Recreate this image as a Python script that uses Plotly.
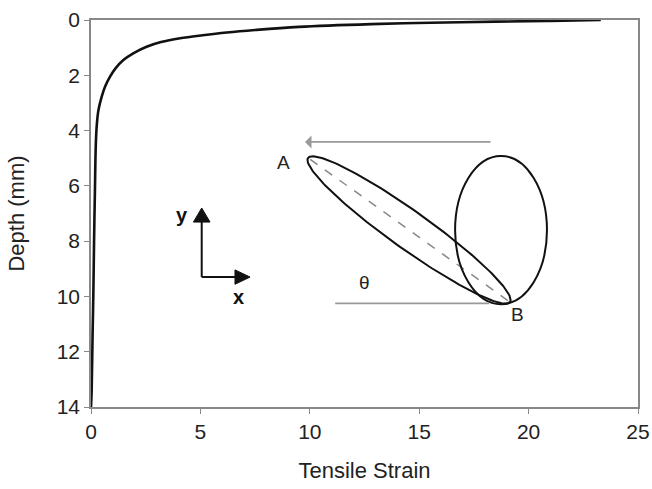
import numpy as np
import plotly.graph_objects as go

# ---- data: depth profile of tensile strain ----
depth = [0.0, 0.03, 0.06, 0.10, 0.15, 0.25, 0.36, 0.45, 0.55, 0.66, 0.80, 0.97,
         1.20, 1.45, 1.75, 2.05, 2.40, 2.77, 3.26, 3.74, 4.50, 6.15, 8.00, 9.77,
         11.50, 13.40, 14.0]
strain = [23.3, 21.0, 18.5, 15.5, 12.8, 9.5, 7.5, 6.2, 5.1, 4.07, 3.2, 2.54,
          1.95, 1.48, 1.12, 0.87, 0.65, 0.49, 0.34, 0.27, 0.22, 0.18, 0.14, 0.11,
          0.07, 0.03, 0.0]

x_ticks = [0, 5, 10, 15, 20, 25]
y_ticks = [0, 2, 4, 6, 8, 10, 12, 14]

W, H = 652, 489
L, R, T, B = 91, 14, 20, 82
XR = [0, 25]
YR = [14, 0]
sx = (W - L - R) / (XR[1] - XR[0])   # px per x unit
sy = (H - T - B) / (YR[0] - YR[1])   # px per y unit

fig = go.Figure()
fig.add_trace(go.Scatter(x=strain, y=depth, mode="lines", line_shape="spline",
                         line=dict(color="#111111", width=2.6), hoverinfo="skip"))

# ---- schematic (inset diagram) ----
A = (9.92, 4.99)
Bp = (19.15, 10.20)
minor_px = 19.0
ax_, ay_ = A[0] * sx, A[1] * sy
bx_, by_ = Bp[0] * sx, Bp[1] * sy
cx, cy = (ax_ + bx_) / 2, (ay_ + by_) / 2
a = np.hypot(bx_ - ax_, by_ - ay_) / 2
ang = np.arctan2(by_ - ay_, bx_ - ax_)
t = np.linspace(0, 2 * np.pi, 200)
ex = cx + a * np.cos(t) * np.cos(ang) - minor_px * np.sin(t) * np.sin(ang)
ey = cy + a * np.cos(t) * np.sin(ang) + minor_px * np.sin(t) * np.cos(ang)
fig.add_trace(go.Scatter(x=ex / sx, y=ey / sy, mode="lines",
                         line=dict(color="#111111", width=2), hoverinfo="skip"))
fig.add_trace(go.Scatter(x=[A[0] + 0.1, Bp[0] - 0.1], y=[A[1] + 0.05, Bp[1] - 0.05],
                         mode="lines", line=dict(color="#888888", width=1.5, dash="dash"),
                         hoverinfo="skip"))
shapes = [dict(type="circle", xref="x", yref="y", x0=16.64, x1=20.84, y0=4.92, y1=10.28,
               line=dict(color="#111111", width=2))]
shapes.append(dict(type="line", xref="x", yref="y", x0=11.16, x1=18.2, y0=10.25, y1=10.25,
                   line=dict(color="#999999", width=1.8)))
ox, oy = 5.06, 9.30
shapes.append(dict(type="line", xref="x", yref="y", x0=ox, x1=ox, y0=oy, y1=7.25,
                   line=dict(color="#111111", width=2)))
shapes.append(dict(type="line", xref="x", yref="y", x0=ox, x1=6.65, y0=oy, y1=oy,
                   line=dict(color="#111111", width=2)))
shapes.append(dict(type="path", xref="x", yref="y",
                   path=f"M {ox-0.38},7.31 L {ox+0.38},7.31 L {ox},6.80 Z",
                   fillcolor="#111111", line=dict(color="#111111", width=1)))
shapes.append(dict(type="path", xref="x", yref="y",
                   path=f"M 6.58,{oy-0.26} L 6.58,{oy+0.26} L 7.27,{oy} Z",
                   fillcolor="#111111", line=dict(color="#111111", width=1)))

annotations = [
    dict(x=9.78, y=4.41, ax=18.33, ay=4.41, xref="x", yref="y", axref="x", ayref="y",
         text="", showarrow=True, arrowhead=1, arrowsize=1.2, arrowwidth=1.8,
         arrowcolor="#999999"),
    dict(x=8.78, y=5.14, text="A", showarrow=False, font=dict(size=19, color="#222")),
    dict(x=19.47, y=10.67, text="B", showarrow=False, font=dict(size=19, color="#222")),
    dict(x=12.5, y=9.5, text="θ", showarrow=False, font=dict(size=19, color="#222")),
    dict(x=4.15, y=7.05, text="<b>y</b>", showarrow=False, font=dict(size=20, color="#111")),
    dict(x=6.76, y=10.02, text="<b>x</b>", showarrow=False, font=dict(size=20, color="#111")),
]

fig.update_layout(
    width=W, height=H, margin=dict(l=L, r=R, t=T, b=B, autoexpand=False),
    paper_bgcolor="white", plot_bgcolor="white", showlegend=False,
    font=dict(family="Liberation Sans, Arial, sans-serif", color="#222222", size=21),
    shapes=shapes, annotations=annotations,
    xaxis=dict(range=XR, tickvals=x_ticks, showgrid=False, zeroline=False, automargin=False,
               showline=True, linecolor="#888888", linewidth=1.5, mirror=True,
               ticks="outside", ticklen=5, tickcolor="#888888",
               tickfont=dict(size=21), title=dict(text="Tensile Strain", font=dict(size=22), standoff=21)),
    yaxis=dict(range=YR, tickvals=y_ticks, showgrid=False, zeroline=False, automargin=False,
               showline=True, linecolor="#888888", linewidth=1.5, mirror=True,
               ticks="outside", ticklen=5, tickcolor="#888888",
               tickfont=dict(size=21), title=dict(text="Depth (mm)", font=dict(size=22), standoff=26)),
)

fig.write_html("out.html", config={"displayModeBar": False},
               post_script="document.body.style.margin='0';document.body.style.overflow='hidden';")
